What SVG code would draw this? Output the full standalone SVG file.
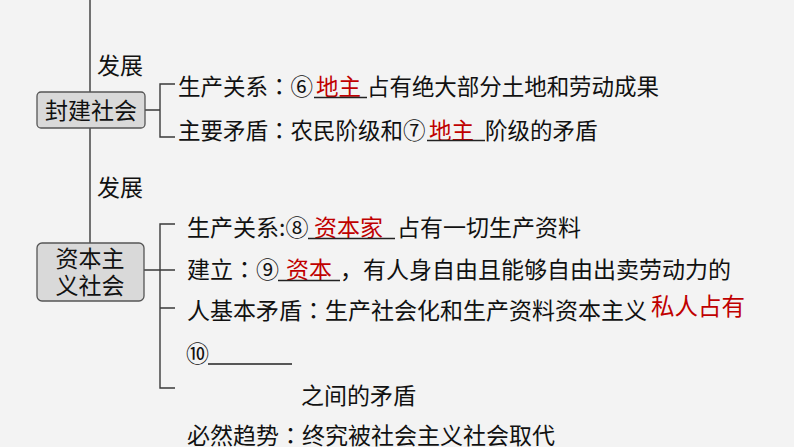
<svg xmlns="http://www.w3.org/2000/svg" width="794" height="447" viewBox="0 0 794 447">
<style>
text{font-family:"Noto Sans CJK SC","Noto Sans",sans-serif;fill:#111;}
.t{font-size:22.5px;}
.u{font-size:23px;}
.red{fill:#c00000;}
.c{font-family:"Noto Sans CJK TC","Noto Sans CJK JP",sans-serif;}
.ln{stroke:#3a3a3a;stroke-width:1.4;fill:none;}
.ul{stroke:#222;stroke-width:1.3;}
.box{fill:#d9d9d9;stroke:#555;stroke-width:1.3;}
</style>
<rect width="794" height="447" fill="#f3f3f3"/>
<g id="connectors">
<path class="ln" d="M90 0V92 M90 128V243"/>
<path class="ln" d="M145 110H160 M175 84H160V137H175"/>
<path class="ln" d="M144 270H160 M175 224H160V388H175 M160 270H175 M160 308H175"/>
</g>
<g id="edge-label-1"><text class="u" x="97" y="74">发展</text></g>
<g id="edge-label-2"><text class="u" x="97" y="196">发展</text></g>
<g id="node-feudal">
<rect class="box" x="37" y="92" width="108" height="36" rx="4"/>
<text class="u" x="91" y="119" text-anchor="middle">封建社会</text>
</g>
<g id="node-capitalist">
<rect class="box" x="37" y="243" width="107" height="58" rx="5"/>
<text class="u" x="90" y="267" text-anchor="middle">资本主</text>
<text class="u" x="90" y="294" text-anchor="middle">义社会</text>
</g>
<g id="feudal-items">
<text class="t" x="178" y="95">生产关系<tspan class="c">：</tspan>⑥</text>
<text class="t red" x="316" y="95">地主</text>
<line class="ul" x1="314" y1="97.5" x2="367" y2="97.5"/>
<text class="t" x="367" y="95" textLength="292">占有绝大部分土地和劳动成果</text>
<text class="t" x="178" y="138.5">主要矛盾<tspan class="c">：</tspan>农民阶级和⑦</text>
<text class="t red" x="429" y="138.5">地主</text>
<line class="ul" x1="427" y1="140.5" x2="485" y2="140.5"/>
<text class="t" x="485" y="138.5">阶级的矛盾</text>
</g>
<g id="capitalist-items">
<text class="u" x="187" y="236">生产关系:⑧</text>
<text class="u red" x="314" y="236">资本家</text>
<line class="ul" x1="308" y1="238.5" x2="395" y2="238.5"/>
<text class="u" x="397" y="236">占有一切生产资料</text>
<text class="u" x="187" y="278">建立<tspan class="c">：</tspan>⑨</text>
<text class="u red" x="286" y="278">资本</text>
<line class="ul" x1="278" y1="280.5" x2="340" y2="280.5"/>
<text class="u" x="340" y="278">，有人身自由且能够自由出卖劳动力的</text>
<text class="u" x="187" y="319">人基本矛盾<tspan class="c">：</tspan>生产社会化和生产资料资本主义</text>
<text class="red" x="651" y="315" style="font-size:23.5px">私人占有</text>
<text class="u" x="186" y="362">⑩</text>
<line class="ul" x1="208" y1="364" x2="292" y2="364"/>
<text class="u" x="301" y="404">之间的矛盾</text>
<text class="u" x="187" y="444">必然趋势<tspan class="c">：</tspan>终究被社会主义社会取代</text>
</g>
</svg>
